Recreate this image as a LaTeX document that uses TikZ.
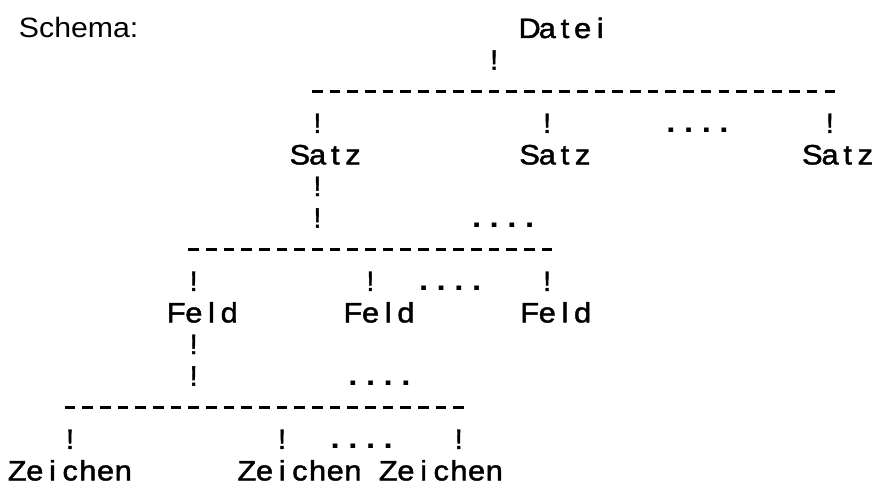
\documentclass[tikz,border=0pt]{standalone}
\usepackage{fontspec}
\usepackage{graphicx}
\setmainfont{Liberation Sans}
\newfontfamily\typefont[FakeBold=1.5]{Liberation Sans}
\usetikzlibrary{positioning}

% one typewriter cell per character
\newlength\cellw
\setlength\cellw{17.67pt}
\newcommand\typed[1]{\typedloop#1\relax}
\def\typedloop#1{\ifx#1\relax\else\makebox[\cellw]{\scalebox{1.1}[1]{#1}}\expandafter\typedloop\fi}

\begin{document}
\begin{tikzpicture}[x=17.67pt,y=-31.6pt]
  % Styles for the printed cells
  \tikzset{word/.style={anchor=base west, inner sep=0pt, font=\fontsize{28}{28}\typefont, yshift=-10pt}}
  \tikzset{bang/.style={anchor=base, inner sep=0pt, font=\fontsize{28}{28}\typefont, yshift=-10pt}}
  \tikzset{dotrow/.style={word, font=\fontsize{30}{30}\selectfont\bfseries}}
  \tikzset{dashbar/.style={line width=2.8pt, dash pattern=on 10.6pt off 7.07pt}}

  \useasboundingbox (0pt,0pt) rectangle (876pt,-487pt);

  \begin{scope}[shift={(17pt,-28pt)}]
  % Schema / Datei
  \node[word, font=\fontsize{28}{28}\selectfont] (schema) at (0.1,0) {\scalebox{1.08}[1]{Schema:}};
  \node[word] (datei) at (28.5,0) {\typed{Datei}};
  \node[bang] (d1) at (27,1) {!};

  % Saetze
  \coordinate (bar1w) at (16.7,2);
  \coordinate (bar1e) at (46.3,2);
  \draw[dashbar] (bar1w) -- (bar1e);
  \node[bang] (s1a) at (17,3) {!};
  \node[bang] (s2a) at (30,3) {!};
  \node[dotrow] (sdots) at (36.5,3) {\typed{....}};
  \node[bang] (s3a) at (46,3) {!};
  \node[word] (satz1) at (15.5,4) {\typed{Satz}};
  \node[word] (satz2) at (28.5,4) {\typed{Satz}};
  \node[word] (satz3) at (44.5,4) {\typed{Satz}};
  \node[bang] (s1b) at (17,5) {!};
  \node[bang] (s1c) at (17,6) {!};
  \node[dotrow] (sdots2) at (25.5,6) {\typed{....}};

  % Felder
  \coordinate (bar2w) at (9.7,7);
  \coordinate (bar2e) at (30.3,7);
  \draw[dashbar] (bar2w) -- (bar2e);
  \node[bang] (f1a) at (10,8) {!};
  \node[bang] (f2a) at (20,8) {!};
  \node[dotrow] (fdots) at (22.5,8) {\typed{....}};
  \node[bang] (f3a) at (30,8) {!};
  \node[word] (feld1) at (8.5,9) {\typed{Feld}};
  \node[word] (feld2) at (18.5,9) {\typed{Feld}};
  \node[word] (feld3) at (28.5,9) {\typed{Feld}};
  \node[bang] (f1b) at (10,10) {!};
  \node[bang] (f1c) at (10,11) {!};
  \node[dotrow] (fdots2) at (18.5,11) {\typed{....}};

  % Zeichen
  \coordinate (bar3w) at (2.7,12);
  \coordinate (bar3e) at (25.3,12);
  \draw[dashbar] (bar3w) -- (bar3e);
  \node[bang] (z1a) at (3,13) {!};
  \node[bang] (z2a) at (15,13) {!};
  \node[dotrow] (zdots) at (17.5,13) {\typed{....}};
  \node[bang] (z3a) at (25,13) {!};
  \node[word] (zeichen1) at (-0.5,14) {\typed{Zeichen}};
  \node[word] (zeichen2) at (12.5,14) {\typed{Zeichen}};
  \node[word] (zeichen3) at (20.5,14) {\typed{Zeichen}};
  \end{scope}
\end{tikzpicture}
\end{document}
